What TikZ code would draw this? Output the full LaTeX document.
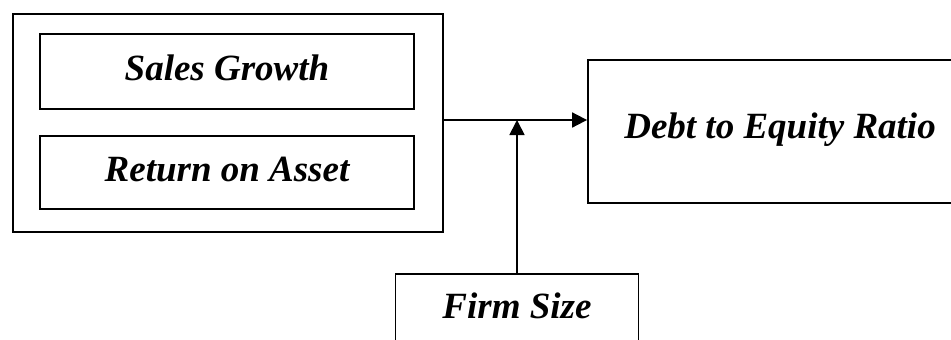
\documentclass[tikz,border=0pt]{standalone}
\usepackage{fontspec}
\setmainfont{Liberation Serif}
\usetikzlibrary{arrows.meta}
\begin{document}
\begin{tikzpicture}[x=1pt,y=-1pt,
  box/.style={draw,line width=1.8pt,inner sep=0pt,minimum width=#1},
  lbl/.style={font=\fontsize{37}{44}\selectfont\bfseries\itshape,inner sep=0pt,
    text height=26pt,text depth=8pt},
  arr/.style={line width=1.8pt,-{Triangle[length=15pt,width=15pt]}}]
  \useasboundingbox (0,0) rectangle (951,340);
  \clip (0,0) rectangle (951,340);
  % independent variables grouped in one frame
  \node[box=430pt,minimum height=218pt] (outer) at (228,123) {};
  \node[box=374pt,minimum height=75pt,lbl] (sales) at (227,71.5) {Sales Growth};
  \node[box=374pt,minimum height=73pt,lbl] (roa) at (227,172.5) {Return on Asset};
  % dependent variable
  \node[box=384pt,minimum height=143pt,lbl,text depth=13pt] (der) at (780,131.5) {Debt to Equity Ratio};
  % moderating variable
  \node[box=243pt,minimum height=110pt,anchor=north] (firm) at (517,273) {};
  \node[lbl] (firmtxt) at (517,309) {Firm Size};
  % connectors
  \coordinate (j) at (517,120);
  \draw[arr] (outer.east |- j) -- (der.west |- j);
  \draw[arr] (firm.north) -- (j);
\end{tikzpicture}
\end{document}
